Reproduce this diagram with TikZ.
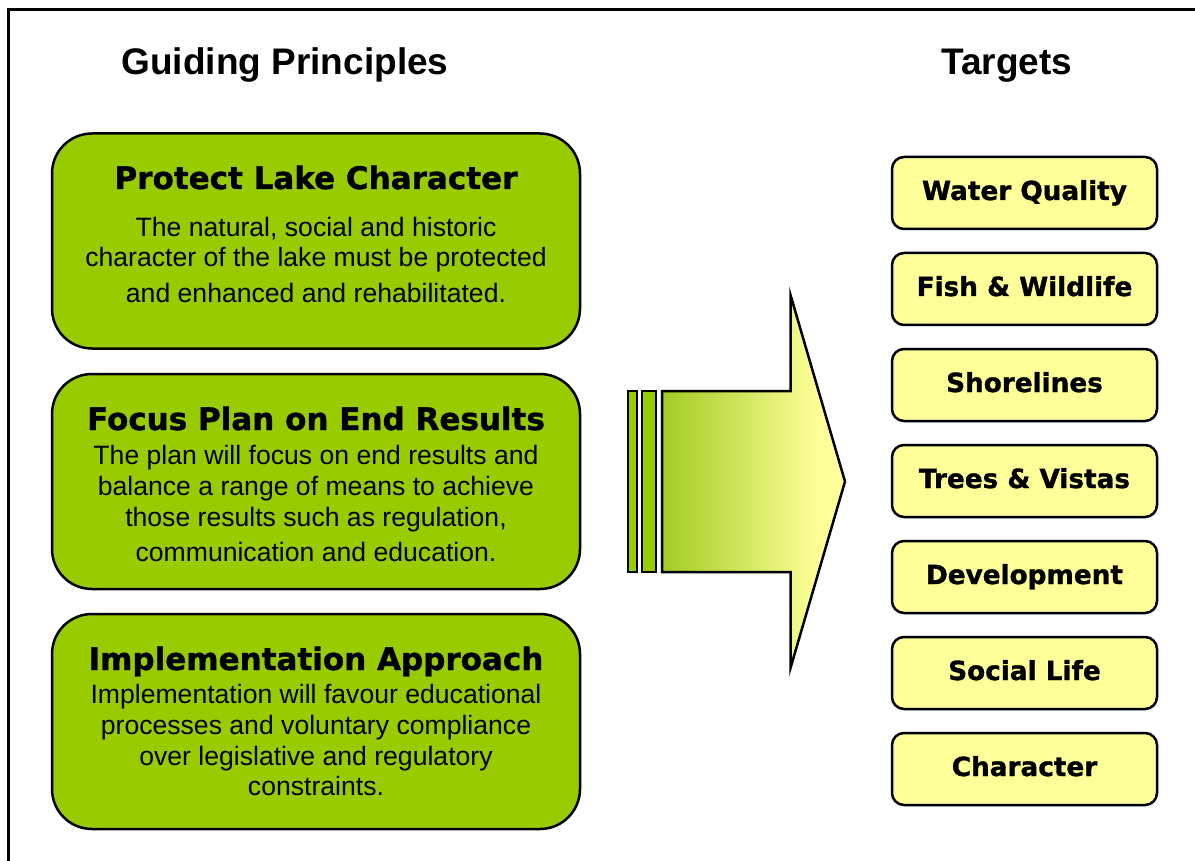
\documentclass[tikz,border=0pt]{standalone}
\usepackage{fontspec}
\setmainfont{Liberation Sans}
\newfontfamily\vfont{DejaVu Sans}[BoldFeatures={FakeBold=1.2}]
\definecolor{boxgreen}{HTML}{99CC00}
\definecolor{arrowgreen}{HTML}{A2CC22}
\definecolor{paleyellow}{HTML}{FFFF99}
\pgfdeclarehorizontalshading{arrowshade}{100bp}{color(0bp)=(arrowgreen); color(25bp)=(arrowgreen); color(68bp)=(paleyellow); color(100bp)=(paleyellow)}
\tikzset{
  gbox/.style={draw=black, line width=2.5pt, fill=boxgreen, rounded corners=40pt, minimum width=528pt, minimum height=215pt, inner sep=0pt},
  tbox/.style={draw=black, line width=2.5pt, fill=paleyellow, rounded corners=12pt, minimum width=265pt, minimum height=72pt, inner sep=0pt},
  header/.style={font=\bfseries\fontsize{37}{44}\selectfont, anchor=base, inner sep=0pt},
  gtitle/.style={font=\vfont\bfseries\fontsize{31}{37}\selectfont, anchor=base, inner sep=0pt},
  bodyline/.style={font=\fontsize{26.6}{31}\selectfont, anchor=base, inner sep=0pt},
  ttext/.style={font=\vfont\bfseries\fontsize{26.3}{31}\selectfont, anchor=base, inner sep=0pt},
  bar/.style={draw=black, line width=2pt, fill=boxgreen},
}
\begin{document}
\begin{tikzpicture}[x=1pt,y=-1pt]
\useasboundingbox (0,0) rectangle (1195,861);
% outer frame (right and bottom edges lie beyond the picture)
\draw[line width=3pt] (8.5,900) -- (8.5,9.5) -- (1230,9.5);

% headers
\node[header] (hgp) at (285,75) {Guiding Principles};
\node[header] (htg) at (1007,75) {Targets};

% guiding principle boxes
\node[gbox] (p1) at (316,241) {};
\node[gbox] (p2) at (316,481.5) {};
\node[gbox] (p3) at (316,721.5) {};

\node[gtitle] (p1t) at (316,189) {Protect Lake Character};
\node[bodyline] (p1a) at (316,237) {The natural, social and historic};
\node[bodyline] (p1b) at (316,267) {character of the lake must be protected};
\node[bodyline] (p1c) at (316,302) {and enhanced and rehabilitated.};

\node[gtitle] (p2t) at (316,430) {Focus Plan on End Results};
\node[bodyline] (p2a) at (316,464) {The plan will focus on end results and};
\node[bodyline] (p2b) at (316,495) {balance a range of means to achieve};
\node[bodyline] (p2c) at (316,526) {those results such as regulation,};
\node[bodyline] (p2d) at (316,561) {communication and education.};

\node[gtitle] (p3t) at (316,670) {Implementation Approach};
\node[bodyline] (p3a) at (316,703) {Implementation will favour educational};
\node[bodyline] (p3b) at (316,734) {processes and voluntary compliance};
\node[bodyline] (p3c) at (316,765) {over legislative and regulatory};
\node[bodyline] (p3d) at (316,795) {constraints.};

% big arrow
\draw[bar] (628,391) rectangle (636.5,572);
\draw[bar] (641.7,391) rectangle (656,572);
\draw[line width=2.5pt, draw=black, shading=arrowshade, line join=miter]
  (662,391) -- (790.5,391) -- (790.5,295) -- (845,481.5) -- (790.5,668) -- (790.5,572) -- (662,572) -- cycle;

% targets
\foreach \i/\t in {0/Water Quality,1/Fish \& Wildlife,2/Shorelines,3/Trees \& Vistas,4/Development,5/Social Life,6/Character}{
  \node[tbox] (tg\i) at (1024.5,193+96*\i) {};
  \node[ttext] (tgl\i) at (1024.5,200+96*\i) {\t};
}
\end{tikzpicture}
\end{document}
